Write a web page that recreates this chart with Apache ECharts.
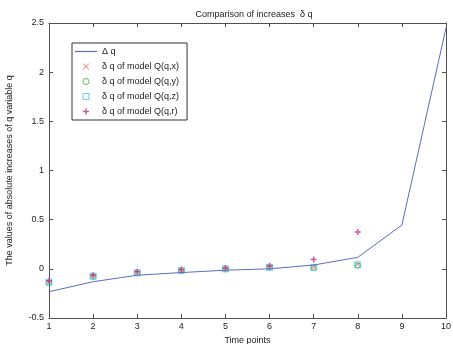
<!DOCTYPE html>
<html><head><meta charset="utf-8">
<script src="https://cdn.jsdelivr.net/npm/echarts@6/dist/echarts.min.js"></script>
<style>html,body{margin:0;padding:0;background:#fff}#c{width:453px;height:344px}</style>
</head><body><div id="c"></div>
<script>
var timePoints = [1,2,3,4,5,6,7,8,9,10];
var deltaQ = [-0.233, -0.131, -0.065, -0.038, -0.014, 0.0, 0.039, 0.117, 0.445, 2.45];
var qx = [-0.13, -0.07, -0.036, -0.015, 0.0, 0.02, 0.015, 0.045];
var qy = [-0.145, -0.08, -0.045, -0.02, -0.005, 0.015, 0.01, 0.035];
var qz = [-0.135, -0.075, -0.04, -0.015, 0.0, 0.015, 0.015, 0.04];
var qr = [-0.12, -0.065, -0.03, -0.01, 0.008, 0.03, 0.095, 0.375];
var yTicks = [-0.5, 0, 0.5, 1, 1.5, 2, 2.5];
var names = ['\u0394 q','\u03b4 q of model Q(q,x)','\u03b4 q of model Q(q,y)','\u03b4 q of model Q(q,z)','\u03b4 q of model Q(q,r)'];

function pairs(ys){ return ys.map(function(v,i){ return [timePoints[i], v]; }); }
var xPath = 'path://M0,0L10,10M10,0L0,10';
var plusPath = 'path://M5,0L5,10M0,5L10,5';
var circPath = 'path://M10,5A5,5,0,1,1,0,5A5,5,0,1,1,10,5Z';
var sqPath = 'path://M0,0L10,0L10,10L0,10Z';
var linePath = 'path://M0,0L22,0L22,1.2L0,1.2Z';
var ax = '#505050';
var font = 'Arial, Liberation Sans, sans-serif';
var colors = ['#5a6cc0','#f04848','#30b030','#40c0e0','#c03090'];
var chart = echarts.init(document.getElementById('c'));
chart.setOption({
  animation:false,
  title:{text:'Comparison of increases  \u03b4 q', left:249, top:5, textAlign:'center',
    textStyle:{fontSize:9, fontWeight:'normal', color:'#222', fontFamily:font}},
  grid:{left:49, right:7, top:23, bottom:26, outerBoundsMode:'none', containLabel:false},
  legend:{orient:'vertical', left:72, top:43, itemWidth:22, itemHeight:6, itemGap:6,
    padding:[4,8,4,3], borderColor:'#333', borderWidth:1, backgroundColor:'#fff',
    textStyle:{fontSize:9, color:'#222', fontFamily:font},
    data:[
      {name:names[0], icon:linePath, itemStyle:{color:colors[0]}},
      {name:names[1], icon:xPath, itemStyle:{color:'transparent', borderColor:colors[1], borderWidth:1}},
      {name:names[2], icon:circPath, itemStyle:{color:'transparent', borderColor:colors[2], borderWidth:1}},
      {name:names[3], icon:sqPath, itemStyle:{color:'transparent', borderColor:colors[3], borderWidth:1}},
      {name:names[4], icon:plusPath, itemStyle:{color:'transparent', borderColor:colors[4], borderWidth:1.5}}
    ]},
  xAxis:[{type:'value', min:1, max:10, interval:1, position:'bottom',
      name:'Time points', nameLocation:'middle', nameGap:15,
      nameTextStyle:{fontSize:9, color:'#222', fontFamily:font},
      axisLine:{onZero:false, lineStyle:{color:ax}}, axisTick:{inside:true, length:4, lineStyle:{color:ax}},
      axisLabel:{fontSize:9, color:'#222', margin:4, fontFamily:font}, splitLine:{show:false}},
    {type:'value', min:1, max:10, interval:1, position:'top',
      axisLine:{onZero:false, lineStyle:{color:ax}}, axisTick:{inside:true, length:4, lineStyle:{color:ax}},
      axisLabel:{show:false}, splitLine:{show:false}}],
  yAxis:[{type:'value', min:yTicks[0], max:yTicks[yTicks.length-1], interval:0.5,
      name:'The values of absolute increases of q variable q', nameLocation:'middle', nameGap:35,
      nameTextStyle:{fontSize:9, color:'#222', fontFamily:font},
      axisLine:{show:true, onZero:false, lineStyle:{color:ax}}, axisTick:{show:true, inside:true, length:4, lineStyle:{color:ax}},
      axisLabel:{fontSize:9, color:'#222', margin:5, fontFamily:font}, splitLine:{show:false}},
    {type:'value', min:yTicks[0], max:yTicks[yTicks.length-1], interval:0.5, position:'right',
      axisLine:{show:true, onZero:false, lineStyle:{color:ax}}, axisTick:{show:true, inside:true, length:4, lineStyle:{color:ax}},
      axisLabel:{show:false}, splitLine:{show:false}}],
  series:[
    {name:names[0], type:'line', data:pairs(deltaQ), symbol:'none', lineStyle:{color:colors[0], width:1}, itemStyle:{color:colors[0]}},
    {name:names[1], type:'scatter', data:pairs(qx), symbol:xPath, symbolSize:4,
      itemStyle:{color:'transparent', borderColor:colors[1], borderWidth:1}},
    {name:names[2], type:'scatter', data:pairs(qy), symbol:circPath, symbolSize:5,
      itemStyle:{color:'transparent', borderColor:colors[2], borderWidth:1}},
    {name:names[3], type:'scatter', data:pairs(qz), symbol:sqPath, symbolSize:6,
      itemStyle:{color:'transparent', borderColor:colors[3], borderWidth:1}},
    {name:names[4], type:'scatter', data:pairs(qr), symbol:plusPath, symbolSize:6,
      itemStyle:{color:'transparent', borderColor:colors[4], borderWidth:1.5}}
  ]
});
</script></body></html>
